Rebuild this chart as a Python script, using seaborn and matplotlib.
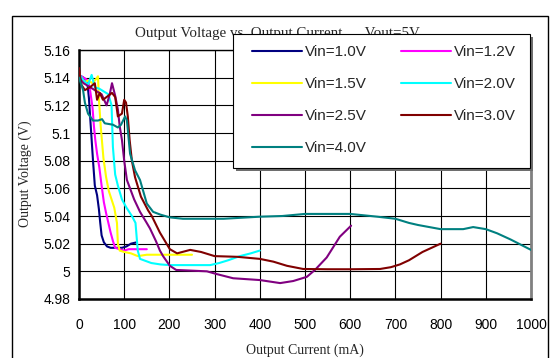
import matplotlib
matplotlib.use("Agg")
import matplotlib.pyplot as plt
import seaborn as sns
import pandas as pd
from matplotlib.patches import Rectangle

# ---- data ----
x_10 = [0, 10, 18, 22, 25, 28, 31, 35, 40, 44, 47, 50, 55, 62, 70, 80, 95, 105, 115, 128]
y_10 = [5.142, 5.140, 5.138, 5.125, 5.110, 5.095, 5.080, 5.062, 5.055, 5.045, 5.035, 5.026,
        5.021, 5.018, 5.017, 5.017, 5.017, 5.018, 5.020, 5.021]

x_12 = [0, 10, 20, 25, 30, 33, 36, 40, 45, 50, 55, 60, 65, 70, 75, 80, 90, 100, 110, 130, 150]
y_12 = [5.142, 5.140, 5.138, 5.130, 5.118, 5.105, 5.095, 5.085, 5.075, 5.062, 5.050, 5.042,
        5.035, 5.028, 5.022, 5.017, 5.016, 5.015, 5.016, 5.016, 5.016]

x_15 = [0, 10, 20, 30, 38, 42, 44, 48, 54, 60, 66, 72, 78, 84, 86, 90, 100, 115, 130, 150, 200, 250]
y_15 = [5.140, 5.136, 5.138, 5.136, 5.139, 5.141, 5.125, 5.105, 5.082, 5.068, 5.058, 5.052,
        5.046, 5.035, 5.020, 5.015, 5.014, 5.013, 5.011, 5.012, 5.012, 5.012]

x_20 = [0, 10, 20, 28, 35, 45, 55, 65, 72, 75, 80, 86, 95, 105, 117, 125, 130, 135, 160, 180,
        200, 250, 290, 310, 330, 356, 380, 400]
y_20 = [5.143, 5.138, 5.135, 5.142, 5.133, 5.132, 5.130, 5.128, 5.120, 5.090, 5.070, 5.062,
        5.052, 5.046, 5.040, 5.035, 5.015, 5.009, 5.006, 5.005, 5.0045, 5.0045, 5.0045, 5.006,
        5.008, 5.011, 5.013, 5.015]

x_25 = [0, 10, 20, 30, 40, 50, 61, 68, 73, 80, 86, 90, 95, 100, 106, 122, 135, 148, 157, 170,
        179, 186, 201, 215, 283, 305, 341, 400, 445, 474, 504, 522, 548, 577, 602]
y_25 = [5.140, 5.136, 5.134, 5.132, 5.130, 5.128, 5.120, 5.128, 5.136, 5.127, 5.117, 5.105,
        5.095, 5.080, 5.066, 5.052, 5.043, 5.036, 5.031, 5.022, 5.015, 5.011, 5.004, 5.001,
        5.000, 4.998, 4.995, 4.9937, 4.9915, 4.993, 4.996, 5.001, 5.010, 5.025, 5.033]

x_30 = [0, 5, 13, 24, 35, 40, 46, 53, 61, 73, 80, 86, 95, 100, 104, 108, 112, 117, 124, 137,
        153, 161, 179, 201, 217, 246, 270, 300, 350, 400, 430, 460, 496, 550, 600, 666, 690,
        710, 730, 760, 800]
y_30 = [5.147, 5.135, 5.131, 5.133, 5.136, 5.124, 5.129, 5.124, 5.126, 5.129, 5.126, 5.112,
        5.114, 5.124, 5.122, 5.112, 5.095, 5.080, 5.068, 5.054, 5.044, 5.040, 5.028, 5.016,
        5.013, 5.0155, 5.014, 5.011, 5.0105, 5.009, 5.007, 5.004, 5.0017, 5.0015, 5.0015,
        5.0017, 5.003, 5.005, 5.008, 5.014, 5.020]

x_40 = [0, 9, 13, 20, 31, 42, 51, 57, 75, 86, 93, 102, 106, 113, 124, 135, 150, 164, 180, 201,
        230, 320, 400, 450, 500, 600, 660, 700, 730, 750, 800, 850, 872, 900, 925, 955, 1000]
y_40 = [5.140, 5.131, 5.122, 5.114, 5.109, 5.109, 5.110, 5.107, 5.106, 5.104, 5.106, 5.112,
        5.109, 5.085, 5.073, 5.066, 5.049, 5.043, 5.041, 5.039, 5.038, 5.038, 5.0395, 5.040,
        5.0415, 5.0415, 5.0395, 5.038, 5.035, 5.0335, 5.0305, 5.0305, 5.032, 5.0305, 5.0275,
        5.023, 5.0155]

labels = ["Vin=1.0V", "Vin=1.2V", "Vin=1.5V", "Vin=2.0V", "Vin=2.5V", "Vin=3.0V", "Vin=4.0V"]
colors = ["#000080", "#FF00FF", "#FFFF00", "#00FFFF", "#800080", "#800000", "#008080"]
xs = [x_10, x_12, x_15, x_20, x_25, x_30, x_40]
ys = [y_10, y_12, y_15, y_20, y_25, y_30, y_40]

x_ticks = [0, 100, 200, 300, 400, 500, 600, 700, 800, 900, 1000]
y_ticks = [4.98, 5.0, 5.02, 5.04, 5.06, 5.08, 5.1, 5.12, 5.14, 5.16]
y_tick_labels = ["4.98", "5", "5.02", "5.04", "5.06", "5.08", "5.1", "5.12", "5.14", "5.16"]

title = "Output Voltage vs. Output Current      Vout=5V"
xlabel = "Output Current (mA)"
ylabel = "Output Voltage (V)"

# ---- plotting ----
sns.set_theme(style="white")
plt.rcParams["font.family"] = ["Liberation Sans", "DejaVu Sans"]

W, H = 551, 358
fig = plt.figure(figsize=(W / 100, H / 100), dpi=100)
ax = fig.add_axes([79 / W, 1 - 299 / H, (531 - 79) / W, (299 - 50) / H])

for x, y, lab, c in zip(xs, ys, labels, colors):
    df = pd.DataFrame({"x": x, "y": y})
    sns.lineplot(data=df, x="x", y="y", ax=ax, color=c, lw=1.5, sort=False,
                 estimator=None, label=lab, zorder=3)
handles_all, labels_all = ax.get_legend_handles_labels()
if ax.get_legend():
    ax.get_legend().remove()

ax.set_xlim(0, 1000)
ax.set_ylim(4.98, 5.16)
ax.set_xticks(x_ticks)
ax.set_yticks(y_ticks)
ax.set_yticklabels(y_tick_labels)
ax.grid(True, color="black", lw=0.8)
ax.set_axisbelow(True)
ax.tick_params(axis="x", labelsize=10, pad=14, length=3, direction="in", colors="black")
ax.tick_params(axis="y", labelsize=10, pad=6, length=0, colors="black")
ax.set_xlabel("")
ax.set_ylabel("")
for side in ["left", "bottom"]:
    ax.spines[side].set_color("black")
    ax.spines[side].set_linewidth(1.8)
ax.spines["top"].set_color("black")
ax.spines["top"].set_linewidth(1.0)
ax.spines["right"].set_color("#808080")
ax.spines["right"].set_linewidth(2.0)

serif = ["Liberation Serif", "DejaVu Serif"]
fig.text(305 / W, 1 - 350 / H, xlabel, ha="center", va="center", fontsize=10, family=serif)
fig.text(25 / W, 1 - 174 / H, ylabel, ha="center", va="center", rotation=90, fontsize=10,
         family=serif)
fig.text(277 / W, 1 - 33 / H, title, ha="center", va="center", fontsize=10.8, family=serif,
         zorder=1)

# legend box (frame + shadow) drawn as figure patches
bx0, by0, bx1, by1 = 233, 34, 530, 168
fig.patches.append(Rectangle(((bx0 + 3) / W, 1 - (by1 + 3) / H), (bx1 - bx0) / W,
                             (by1 - by0) / H, transform=fig.transFigure,
                             facecolor="#6e6e6e", edgecolor="none", zorder=8))
fig.patches.append(Rectangle((bx0 / W, 1 - by1 / H), (bx1 - bx0) / W, (by1 - by0) / H,
                             transform=fig.transFigure, facecolor="white",
                             edgecolor="black", lw=0.8, zorder=9))

order = [0, 2, 4, 6, 1, 3, 5]
leg = fig.legend([handles_all[i] for i in order], [labels_all[i] for i in order],
                 ncol=2, loc="upper left", bbox_to_anchor=(252 / W, 1 - 45.5 / H),
                 bbox_transform=fig.transFigure, borderaxespad=0, borderpad=0,
                 fontsize=11, frameon=False, handlelength=3.25, handletextpad=0.2,
                 labelspacing=1.17, columnspacing=2.25)
leg.set_zorder(10)

# outer frame
fig.patches.append(Rectangle((12 / W, -0.05), (548 - 12) / W, 1 - 16 / H + 0.05,
                             transform=fig.transFigure, fill=False, edgecolor="black",
                             lw=1.0, zorder=0))

fig.savefig("out.png", dpi=100)
